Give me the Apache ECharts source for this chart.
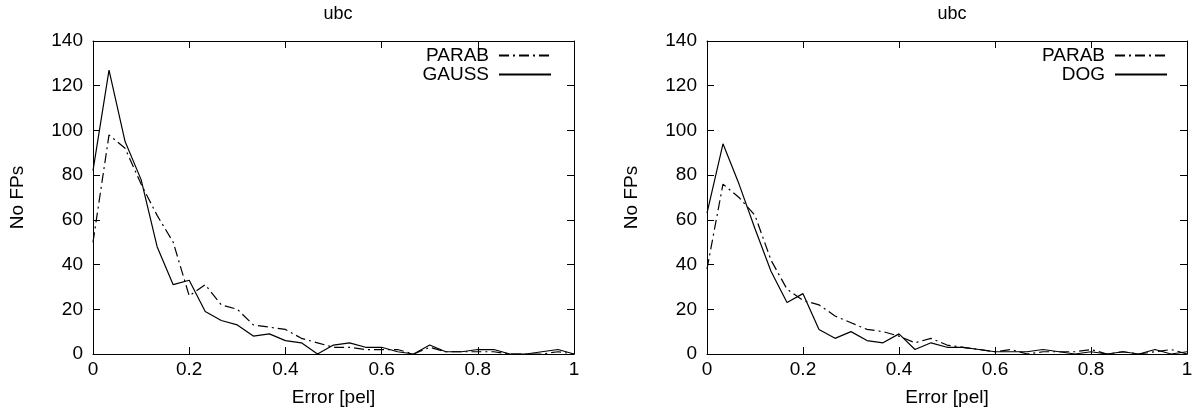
<!DOCTYPE html>
<html><head><meta charset="utf-8">
<script src="https://cdn.jsdelivr.net/npm/echarts@6/dist/echarts.min.js"></script>
<style>html,body{margin:0;padding:0;background:#fff}#c{width:1196px;height:417px}</style>
</head><body><div id="c"></div>
<script>
const errX = [0, 0.0333, 0.0667, 0.1, 0.1333, 0.1667, 0.2, 0.2333, 0.2667, 0.3, 0.3333, 0.3667, 0.4, 0.4333, 0.4667, 0.5,
  0.5333, 0.5667, 0.6, 0.6333, 0.6667, 0.7, 0.7333, 0.7667, 0.8, 0.8333, 0.8667, 0.9, 0.9333, 0.9667, 1];
const leftParab = [50, 98, 92, 76, 62, 50, 26, 31, 22, 20, 13, 12, 11, 7, 5, 3, 3, 2, 2, 2, 0, 3, 1, 1, 1, 1, 0, 0, 0, 1, 0];
const leftGauss = [82, 127, 95, 78, 48, 31, 33, 19, 15, 13, 8, 9, 6, 5, 0, 4, 5, 3, 3, 1, 0, 4, 1, 1, 2, 2, 0, 0, 1, 2, 0];
const rightParab = [38, 76, 70, 62, 42, 29, 24, 22, 17, 14, 11, 10, 8, 5, 7, 4, 3, 2, 1, 2, 0, 1, 1, 1, 2, 0, 1, 0, 1, 2, 0];
const rightDog = [63, 94, 76, 56, 37, 23, 27, 11, 7, 10, 6, 5, 9, 2, 5, 3, 3, 2, 1, 1, 1, 2, 1, 0, 1, 0, 1, 0, 2, 0, 1];
const titles = ['ubc', 'ubc'];
const xTitle = 'Error [pel]';
const yTitle = 'No FPs';

const pairs = v => v.map((y, i) => [errX[i], y]);
const FONT = 'Liberation Sans';
const lblStyle = {color: '#000', fontSize: 19, fontFamily: FONT};
const grids = [
  {left: 93, top: 41, width: 481, height: 313},
  {left: 707, top: 41, width: 480, height: 313}
];
const xAxes = [], yAxes = [];
[0, 1].forEach(g => {
  xAxes.push({gridIndex: g, type: 'value', min: 0, max: 1, interval: 0.2, position: 'bottom',
    name: xTitle, nameLocation: 'middle', nameGap: 34, nameTextStyle: lblStyle,
    axisLine: {show: true, onZero: false, lineStyle: {color: '#000', width: 1}},
    axisTick: {show: true, inside: true, length: 7, lineStyle: {color: '#000'}},
    axisLabel: Object.assign({margin: 6, formatter: v => String(+v.toFixed(1))}, lblStyle),
    splitLine: {show: false}});
  xAxes.push({gridIndex: g, type: 'value', min: 0, max: 1, interval: 0.2, position: 'top',
    axisLine: {show: true, onZero: false, lineStyle: {color: '#000', width: 1}},
    axisTick: {show: true, inside: true, length: 7, lineStyle: {color: '#000'}},
    axisLabel: {show: false}, splitLine: {show: false}});
  yAxes.push({gridIndex: g, type: 'value', min: 0, max: 140, interval: 20, position: 'left',
    name: yTitle, nameLocation: 'middle', nameGap: 66, nameRotate: 90, nameTextStyle: lblStyle,
    axisLine: {show: true, onZero: false, lineStyle: {color: '#000', width: 1}},
    axisTick: {show: true, inside: true, length: 7, lineStyle: {color: '#000'}},
    axisLabel: Object.assign({margin: 10}, lblStyle),
    splitLine: {show: false}});
  yAxes.push({gridIndex: g, type: 'value', min: 0, max: 140, interval: 20, position: 'right',
    axisLine: {show: true, onZero: false, lineStyle: {color: '#000', width: 1}},
    axisTick: {show: true, inside: true, length: 7, lineStyle: {color: '#000'}},
    axisLabel: {show: false}, splitLine: {show: false}});
});
const dashDot = [10, 4, 2, 4];
const mk = (name, data, g, dash) => ({
  name, type: 'line', xAxisIndex: g * 2, yAxisIndex: g * 2, data: pairs(data),
  symbol: 'none', showSymbol: false, animation: false,
  lineStyle: {color: '#000', width: 1.2, type: dash ? dashDot : 'solid'},
  itemStyle: {color: '#000'}
});
const series = [
  mk('PARAB', leftParab, 0, true), mk('GAUSS', leftGauss, 0, false),
  mk('PARAB ', rightParab, 1, true), mk('DOG', rightDog, 1, false)
];
const legendBase = {orient: 'vertical', align: 'right', itemWidth: 52, itemHeight: 10, itemGap: 0,
  textStyle: {color: '#000', fontSize: 19, fontFamily: FONT, padding: [0, 5, 0, 0]}, top: 41,
  itemStyle: {opacity: 0}, formatter: n => n.trim()};
const option = {
  animation: false,
  title: [
    {text: titles[0], left: 333, top: 0, textAlign: 'center', textStyle: {color: '#000', fontSize: 18, fontWeight: 'normal', fontFamily: FONT}},
    {text: titles[1], left: 947, top: 0, textAlign: 'center', textStyle: {color: '#000', fontSize: 18, fontWeight: 'normal', fontFamily: FONT}}
  ],
  grid: grids, xAxis: xAxes, yAxis: yAxes, series,
  legend: [
    Object.assign({}, legendBase, {data: ['PARAB', 'GAUSS'], right: 1196 - 557}),
    Object.assign({}, legendBase, {data: ['PARAB ', 'DOG'], right: 23})
  ]
};
echarts.init(document.getElementById('c'), null, {renderer: 'canvas'}).setOption(option);
</script></body></html>
